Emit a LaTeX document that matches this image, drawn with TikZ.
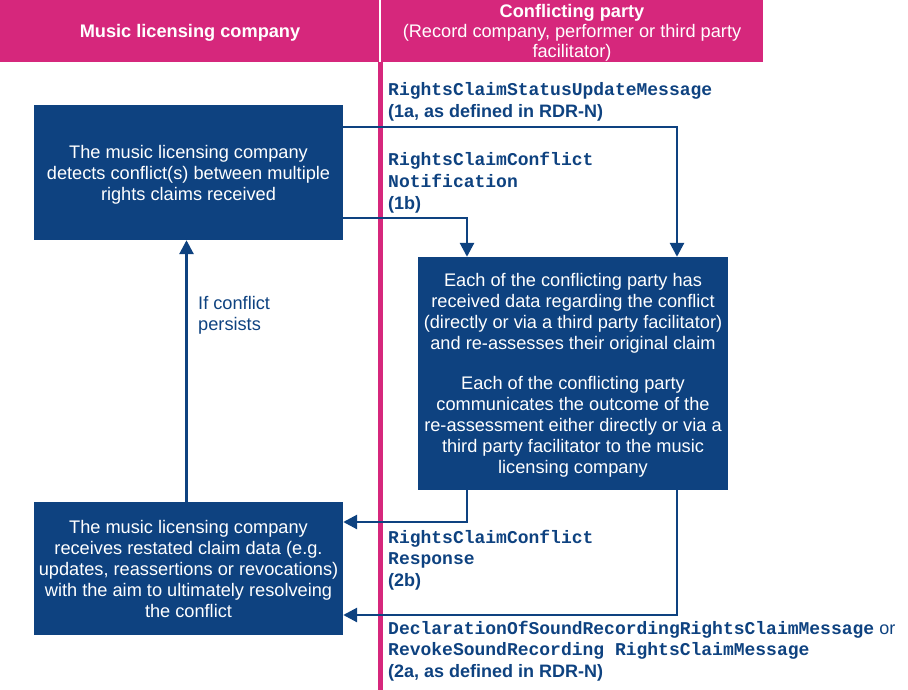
\documentclass[tikz,border=0pt]{standalone}
\usepackage{fontspec}
\setmainfont{Liberation Sans}
\setmonofont{Liberation Mono}
\usetikzlibrary{arrows.meta,calc}
\definecolor{hdr}{RGB}{214,39,124}
\definecolor{dblue}{RGB}{14,66,128}
\tikzset{
  box/.style={draw=none,fill=dblue,text=white,align=center,inner sep=0pt,
    font=\fontsize{18.2}{21}\selectfont},
  conn/.style={draw=dblue,line width=2.8pt,-{Triangle[width=14pt,length=14pt]}},
  lbl/.style={anchor=base west,inner sep=0pt,text=dblue,font=\fontsize{18}{21}\selectfont\bfseries},
  mono/.style={anchor=base west,inner sep=0pt,text=dblue,font=\fontsize{18}{21}\selectfont\ttfamily\bfseries},
  hdrtext/.style={text=white,inner sep=0pt,anchor=base,font=\fontsize{18.2}{21}\selectfont}
}
\begin{document}
\begin{tikzpicture}[x=1pt,y=-1pt]
\useasboundingbox (0,0) rectangle (908,690);
% header
\fill[hdr] (0,0) rectangle (763,62);
\draw[white,line width=1.5pt] (380,0) -- (380,62);
\fill[hdr] (378,62) rectangle (382.5,690);
\node[hdrtext,font=\fontsize{18.2}{21}\selectfont\bfseries] (h1) at (190,38) {Music licensing company};
\node[hdrtext,font=\fontsize{18.2}{21}\selectfont\bfseries] (h2) at (572,18) {Conflicting party};
\node[hdrtext] (h3) at (572,38) {(Record company, performer or third party};
\node[hdrtext] (h4) at (572,58) {facilitator)};
% boxes
\node[box,text depth=0pt,minimum width=309pt,minimum height=135pt] (b1) at (188.5,172.5)
 {The music licensing company\\detects conflict(s) between multiple\\rights claims received};
\node[box,text depth=0pt,minimum width=310pt,minimum height=233pt] (b2) at (573,373.5)
 {Each of the conflicting party has\\received data regarding the conflict\\(directly or via a third party facilitator)\\and re-assesses their original claim\\[19pt]
  Each of the conflicting party\\communicates the outcome of the\\re-assessment either directly or via a\\third party facilitator to the music\\licensing company};
\node[box,minimum width=309pt,minimum height=133pt] (b3) at (188.5,568.5)
 {The music licensing company\\receives restated claim data (e.g.\\updates, reassertions or revocations)\\with the aim to ultimately resolveing\\the conflict};
% connectors
\draw[conn] (b1.east|-{0,127}) -| ([xshift=104pt]b2.north);
\draw[conn] (b1.east|-{0,218}) -| ([xshift=-106pt]b2.north);
\draw[conn] ([xshift=-106pt]b2.south) |- (b3.east|-{0,522});
\draw[conn] ([xshift=104pt]b2.south) |- (b3.east|-{0,615});
\draw[conn] ([xshift=-2pt]b3.north) -- ([xshift=-2pt]b1.south);
% labels
\node[anchor=base west,inner sep=0pt,text=dblue,align=left,font=\fontsize{18.2}{21}\selectfont] (pers) at (198,330) {If conflict\\persists};
\node[mono] (m1) at (388,96) {RightsClaimStatusUpdateMessage};
\node[lbl] (m1b) at (388,118) {(1a, as defined in RDR-N)};
\node[mono] (m2) at (388,166) {RightsClaimConflict};
\node[mono] (m2b) at (388,187) {Notification};
\node[lbl] (m2c) at (388,209) {(1b)};
\node[mono] (m3) at (388,543) {RightsClaimConflict};
\node[mono] (m3b) at (388,564) {Response};
\node[lbl] (m3c) at (388,586) {(2b)};
\node[mono] (m4) at (388,634) {DeclarationOfSoundRecordingRightsClaimMessage\normalfont\fontsize{18}{21}\selectfont\ or};
\node[mono] (m4b) at (388,655) {RevokeSoundRecording RightsClaimMessage};
\node[lbl] (m4c) at (388,677) {(2a, as defined in RDR-N)};
\end{tikzpicture}
\end{document}
